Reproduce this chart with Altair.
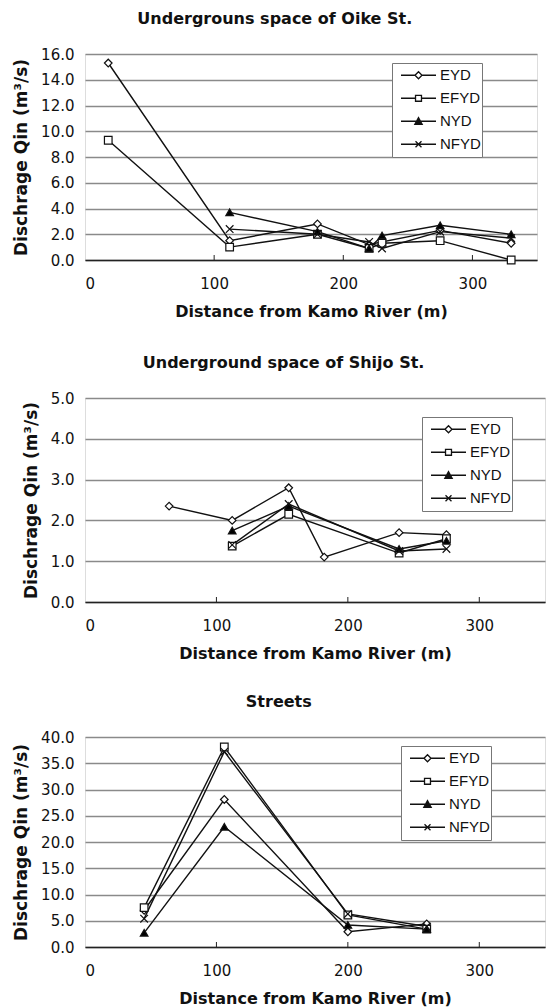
import altair as alt
import pandas as pd

SERIES = ["EYD", "EFYD", "NYD", "NFYD"]

# Underground space of Oike St. (distance m, discharge m3/s)
oike_x = {
    "EYD": [18, 112, 180, 220, 275, 330],
    "EFYD": [18, 112, 180, 220, 230, 275, 330],
    "NYD": [112, 180, 220, 230, 275, 330],
    "NFYD": [112, 180, 220, 230, 275, 330],
}
oike_q = {
    "EYD": [15.3, 1.5, 2.8, 1.2, 2.3, 1.3],
    "EFYD": [9.3, 1.0, 2.0, 0.9, 1.3, 1.5, 0.0],
    "NYD": [3.7, 2.2, 0.9, 1.9, 2.7, 2.0],
    "NFYD": [2.4, 2.0, 1.4, 0.9, 2.2, 1.7],
}

# Underground space of Shijo St.
shijo_x = {
    "EYD": [64, 112, 155, 182, 239, 275],
    "EFYD": [112, 155, 239, 275],
    "NYD": [112, 155, 239, 275],
    "NFYD": [112, 155, 239, 275],
}
shijo_q = {
    "EYD": [2.35, 2.0, 2.8, 1.1, 1.7, 1.65],
    "EFYD": [1.37, 2.15, 1.2, 1.55],
    "NYD": [1.75, 2.35, 1.3, 1.5],
    "NFYD": [1.4, 2.4, 1.25, 1.3],
}

# Streets
street_x = {
    "EYD": [45, 106, 200, 260],
    "EFYD": [45, 106, 200, 260],
    "NYD": [45, 106, 200, 260],
    "NFYD": [45, 106, 200, 260],
}
street_q = {
    "EYD": [7.0, 28.1, 2.9, 4.4],
    "EFYD": [7.5, 38.1, 6.1, 3.4],
    "NYD": [2.7, 22.9, 4.2, 3.4],
    "NFYD": [5.4, 37.2, 6.3, 3.9],
}

x_ticks = [0, 100, 200, 300]
inner_ticks = [100, 200, 300]

# marker styles
point_shapes = ["diamond", "square", "triangle-up", "M-1,-1L1,1M-1,1L1,-1"]
point_fills = ["white", "white", "black", "black"]
# legend keys: a line with the series marker in the middle
legend_shapes = [
    "M-1,0L-0.2,0M0.2,0L1,0M-0.2,0L0,-0.2L0.2,0L0,0.2Z",
    "M-1,0L-0.17,0M0.17,0L1,0M-0.17,-0.17L0.17,-0.17L0.17,0.17L-0.17,0.17Z",
    "M-1,0L1,0M-0.21,0.17L0,-0.21L0.21,0.17Z"
    "M-0.13,0.12L0,-0.12L0.13,0.12ZM-0.06,0.09L0,-0.03L0.06,0.09Z",
    "M-1,0L1,0M-0.17,-0.17L0.17,0.17M-0.17,0.17L0.17,-0.17",
]

TITLE_FONT = "DejaVu Sans"
LABEL_FONT = "DejaVu Sans"
KEY_FONT = "Liberation Sans"
Y_TITLE = "Dischrage Qin (m³/s)"
X_TITLE = "Distance from Kamo River (m)"


def to_frame(xs, qs):
    rows = []
    for s in SERIES:
        for xv, qv in zip(xs[s], qs[s]):
            rows.append({"series": s, "dist": xv, "q": qv})
    return pd.DataFrame(rows)


def panel(title, xs, qs, ymax, ystep, width, height, legend_x, legend_y):
    df = to_frame(xs, qs)
    yvals = [round(i * ystep, 1) for i in range(int(round(ymax / ystep)) + 1)]
    x_scale = alt.Scale(domain=[0, 350], nice=False, zero=True)
    y_scale = alt.Scale(domain=[0, ymax], nice=False)
    x_axis = alt.Axis(
        values=x_ticks, title=X_TITLE, grid=False, ticks=False,
        domainColor="#222", domainWidth=1.5, labelOverlap=False,
        labelFont=LABEL_FONT, labelFontSize=15, labelPadding=16, labelColor="#111",
        titleFont=TITLE_FONT, titleFontSize=16, titleFontWeight="bold",
        titlePadding=12, titleColor="#111",
    )
    y_axis = alt.Axis(
        values=yvals, format=".1f", title=Y_TITLE, grid=True,
        gridColor="#8a8a8a", gridWidth=1.6, ticks=False, domain=False,
        labelOverlap=False,
        labelFont=LABEL_FONT, labelFontSize=15, labelPadding=11, labelColor="#111",
        titleFont=TITLE_FONT, titleFontSize=17, titleFontWeight="bold",
        titlePadding=10, titleColor="#111",
    )
    xenc = alt.X("dist:Q", scale=x_scale, axis=x_axis)
    yenc = alt.Y("q:Q", scale=y_scale, axis=y_axis)

    base = alt.Chart(df)
    lines = base.mark_line(color="#111", strokeWidth=1.4).encode(
        x=xenc, y=yenc, detail="series:N"
    )
    points = base.mark_point(filled=True, stroke="#111", strokeWidth=1.2, size=58, opacity=1).encode(
        x=xenc,
        y=yenc,
        shape=alt.Shape("series:N", scale=alt.Scale(domain=SERIES, range=point_shapes), legend=None),
        fill=alt.Fill("series:N", scale=alt.Scale(domain=SERIES, range=point_fills), legend=None),
    )
    key = base.mark_point(filled=False, color="#111", strokeWidth=1.3, size=1225, opacity=0).encode(
        x=xenc,
        y=yenc,
        shape=alt.Shape(
            "series:N",
            scale=alt.Scale(domain=SERIES, range=legend_shapes),
            legend=alt.Legend(
                title=None, orient="none", legendX=legend_x, legendY=legend_y,
                symbolSize=1225, symbolStrokeColor="#111", symbolStrokeWidth=1.3,
                symbolOpacity=1, symbolOffset=7, clipHeight=22.5,
                labelFont=KEY_FONT, labelFontSize=15,
                labelColor="#111", labelOffset=3, rowPadding=0,
                padding=1, strokeColor="#777", fillColor="white",
            ),
        ),
    )
    tick_df = pd.DataFrame({"dist": inner_ticks})
    ticks = alt.Chart(tick_df).mark_rule(color="#222", strokeWidth=1).encode(
        x=xenc, y=alt.value(height - 5), y2=alt.value(height)
    )
    return (
        alt.layer(lines, points, key, ticks)
        .resolve_scale(shape="independent", fill="independent")
        .properties(
            width=width,
            height=height,
            title=alt.TitleParams(
                title, font=TITLE_FONT, fontSize=16, fontWeight="bold",
                anchor="middle", frame="bounds", offset=20, color="#111",
            ),
        )
    )


p1 = panel("Undergrouns space of Oike St.", oike_x, oike_q, 16, 2, 452, 206, 307, 9)
p2 = panel("Underground space of Shijo St.", shijo_x, shijo_q, 5, 1, 460, 204, 337, 19)
p3 = panel("Streets", street_x, street_q, 40, 5, 460, 210, 316, 9)

chart = (
    alt.vconcat(alt.vconcat(p1, p2, spacing=34), p3, spacing=31)
    .properties(padding={"left": 12, "top": 10, "right": 0, "bottom": 0})
    .configure_view(stroke="#222", strokeWidth=1.5)
    .configure(background="white")
)

chart.save("out.html", embed_options={"renderer": "svg", "actions": False})
